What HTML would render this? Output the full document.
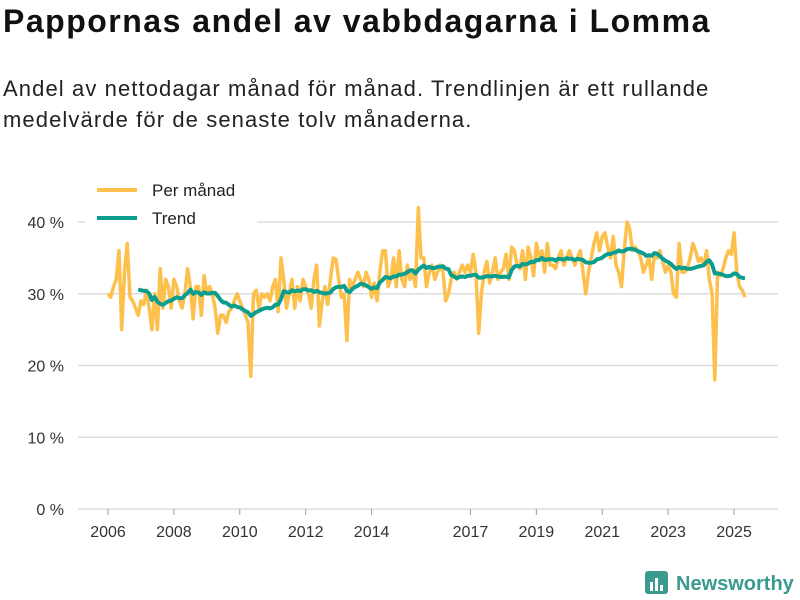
<!DOCTYPE html>
<html><head><meta charset="utf-8"><style>
body{margin:0;width:800px;height:600px;background:#fff;font-family:"Liberation Sans","DejaVu Sans",sans-serif;overflow:hidden;position:relative}
h1{position:absolute;left:3px;top:3px;margin:0;font-size:32px;letter-spacing:1.5px;font-weight:bold;color:#111}
.sub{position:absolute;left:3px;top:73px;font-size:22px;letter-spacing:1.1px;line-height:31px;color:#222}
svg{position:absolute;left:0;top:0}
</style></head><body>
<h1>Pappornas andel av vabbdagarna i Lomma</h1>
<div class="sub">Andel av nettodagar månad för månad. Trendlinjen är ett rullande<br>medelvärde för de senaste tolv månaderna.</div>
<svg id="c" width="800" height="600"></svg>
<script>
const startYear = 2006;
const monthly = [
30,29.5,31,32,36,25,33,37,29.5,29,28,27,
29,28.5,30.5,28,25,30,25,33.5,28,32,31,28,
32,31,29,28,30,33.5,31,26.5,31,31,27,32.5,
30,31,30,28,24.5,27,27,26,27.5,28,29,30,
29,28,27,26,18.5,30,30.5,28,30,29.5,30,29,
31,32,27.5,35,32,28,30,32,28,31,29,32,
31,30,28,32,34,25.5,29,31,28.5,32,35,34.8,
32,29.5,30,23.5,32,31,32,33,32,31,33,32,
29.5,31.5,29,33,36,36,31,32,35,31,36,32,
31,34,32,33,31,42,35,35,31,33,34,32,
33,34,33,29,30,32,33,32,33,34,33,34,
33,35.5,33,24.5,30,33,34.5,31.5,33,35,32,33,
33.5,35.5,32,36.5,36,34,33.5,36,32,36.5,35,32.5,
37,35,36,33,37,34,34,33.5,35,36,34,35,
36,35,34,35,36,33,30,33,35,37,38.5,36,
38,38.5,36.5,35,38,34,33,31,36,40,39,36,
36.5,36,35,33,34,35,32,35.5,35,36,34.5,33,
34,33,30,29.5,37,33,33,33.5,35,37,36,34.5,
35,34,36,32,30,18,33,32.5,33.5,35,36,35.5,
38.5,33,31,30.5,29.5];
const yTicks = [0,10,20,30,40];
const xTicks = [2006,2008,2010,2012,2014,2017,2019,2021,2023,2025];
const NS="http://www.w3.org/2000/svg";
const svg=document.getElementById('c');
const X=t=>108+(t-2006)*32.95;
const Y=v=>509-v*7.175;
function mk(tag,a,p){const e=document.createElementNS(NS,tag);for(const k in a)e.setAttribute(k,a[k]);(p||svg).appendChild(e);return e;}
yTicks.forEach(v=>{
 const l=mk('line',{x1:78,x2:778,y1:Y(v),y2:Y(v),stroke:'#ddd','stroke-width':1.5});
 
 
 const t=mk('text',{x:64,y:Y(v)+6,'text-anchor':'end','font-size':16,fill:'#333'});t.textContent=v+' %';
 
 
});
xTicks.forEach(y=>{
 const l=mk('line',{x1:X(y),x2:X(y),y1:509,y2:515,stroke:'#999'});
 
 
 const t=mk('text',{x:X(y),y:537,'text-anchor':'middle','font-size':16,fill:'#333'});t.textContent=y;
 
 
});
const tOf=i=>startYear+i/12;
let d=monthly.map((v,i)=>(i?'L':'M')+X(tOf(i)).toFixed(1)+' '+Y(v).toFixed(1)).join(' ');
const p1=mk('path',{d:d,fill:'none',stroke:'#fdc04d','stroke-width':3.5,'stroke-linejoin':'round'});


let td='';
for(let i=11;i<monthly.length;i++){let s=0;for(let j=i-11;j<=i;j++)s+=monthly[j];td+=(i>11?'L':'M')+X(tOf(i)).toFixed(1)+' '+Y(s/12).toFixed(1)+' ';}
const p2=mk('path',{d:td,fill:'none',stroke:'#0b9e8e','stroke-width':4,'stroke-linejoin':'round'});


const lg=mk('g',{});


mk('rect',{x:85,y:175,width:172,height:58,fill:'#fff'},lg);
mk('line',{x1:97,x2:137,y1:190,y2:190,stroke:'#fdc04d','stroke-width':4},lg);
let t1=mk('text',{x:152,y:196,'font-size':17,fill:'#222'},lg);t1.textContent='Per månad';
mk('line',{x1:97,x2:137,y1:218,y2:218,stroke:'#0b9e8e','stroke-width':4},lg);
let t2=mk('text',{x:152,y:224,'font-size':17,fill:'#222'},lg);t2.textContent='Trend';
const lo=mk('g',{});


mk('rect',{x:645,y:571,width:23,height:23,rx:3,fill:'#3a9a8e'},lo);
mk('rect',{x:650,y:582,width:3,height:9,fill:'#fff'},lo);
mk('rect',{x:655,y:578,width:3,height:13,fill:'#fff'},lo);
mk('rect',{x:660,y:585,width:3,height:6,fill:'#fff'},lo);
let lt=mk('text',{x:676,y:590,'font-size':20,'font-weight':'bold',fill:'#3a9a8e'},lo);lt.textContent='Newsworthy';
</script>
</body></html>
